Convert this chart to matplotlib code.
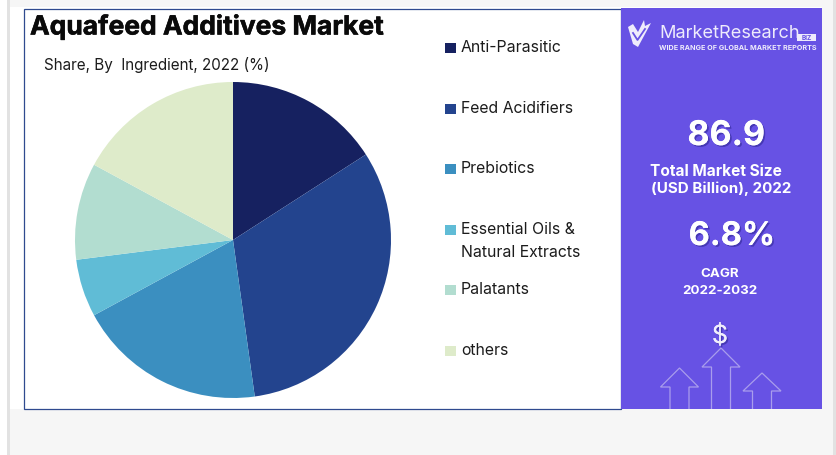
import matplotlib
matplotlib.use("Agg")
import matplotlib.pyplot as plt
import matplotlib.patheffects as pe
from matplotlib.patches import Rectangle, Polygon

W, H = 836, 455

categories = ["Anti-Parasitic", "Feed Acidifiers", "Prebiotics",
              "Essential Oils &\nNatural Extracts", "Palatants", "others"]
shares = [15.9, 31.9, 19.3, 5.9, 9.9, 17.1]
colors = ["#162160", "#23448e", "#3b8fc0", "#60bcd6", "#b2ddd0", "#deebca"]
legend_y = [48, 109, 169, 230, 290, 351]

plt.rcParams["font.family"] = ["Inter", "DejaVu Sans"]

PANEL = "#6752e4"
fig = plt.figure(figsize=(W / 100, H / 100), dpi=100, facecolor="#f6f6f6")

# Page layer in pixel coordinates, origin at the top left
page = fig.add_axes([0, 0, 1, 1])
page.set_xlim(0, W)
page.set_ylim(H, 0)
page.axis("off")


def rect(x0, y0, x1, y1, **kw):
    page.add_patch(Rectangle((x0, y0), x1 - x0, y1 - y0, linewidth=kw.pop("lw", 0), **kw))


rect(0, 0, 7, H, facecolor="#ffffff")
rect(7, 0, 10, H, facecolor="#e2e2e2")
rect(833, 0, W, H, facecolor="#e2e2e2")
rect(10, 7, 822, 409, facecolor="#ffffff")
rect(23.5, 8.5, 621, 408.5, facecolor="#ffffff", edgecolor="#2f4a8f", lw=0.9)
rect(621, 8, 822, 409, facecolor=PANEL)

page.text(30, 27, "Aquafeed Additives Market", fontsize=19, fontweight="bold",
          color="#0a0a0a", va="center", ha="left",
          path_effects=[pe.withStroke(linewidth=0.4, foreground="#0a0a0a")])
page.text(44, 65, "Share, By  Ingredient, 2022 (%)", fontsize=10.95,
          color="#1c1c1c", va="center", ha="left")

# Legend swatches and labels
for name, col, y in zip(categories, colors, legend_y):
    rect(445, y - 5, 456, y + 5, facecolor=col)
    first, *rest = name.split("\n")
    page.text(461, y - 0.5, first, fontsize=11.4, color="#1c1c1c", va="center", ha="left")
    for line in rest:
        page.text(461, y + 22.5, line, fontsize=11.4, color="#1c1c1c", va="center", ha="left")

# Pie
cx, cy, r = 233, 240, 158
pie_ax = fig.add_axes([(cx - r) / W, 1 - (cy + r) / H, 2 * r / W, 2 * r / H])
pie_ax.pie(shares, colors=colors, startangle=90, counterclock=False, radius=1,
           wedgeprops={"linewidth": 0})
pie_ax.set_xlim(-1, 1)
pie_ax.set_ylim(-1, 1)

# Side panel text
shadow = [pe.withSimplePatchShadow(offset=(1.2, -1.2), shadow_rgbFace="#2c2390", alpha=0.55), pe.Normal()]
white = "#ffffff"
page.text(726, 136, "86.9", fontsize=24.5, fontweight="bold", color=white,
          ha="center", va="center", path_effects=shadow)
page.text(715.5, 171, "Total Market Size", fontsize=11.1, fontweight="bold", color=white,
          ha="center", va="center")
page.text(721, 189, "(USD Billion), 2022", fontsize=10.9, fontweight="bold", color=white,
          ha="center", va="center")
page.text(732, 236.5, "6.8%", fontsize=23.5, fontweight="bold", color=white,
          ha="center", va="center", path_effects=shadow)
page.text(720, 274, "CAGR", fontsize=9.6, fontweight="bold", color=white, ha="center", va="center")
page.text(720, 291, "2022-2032", fontsize=9.6, fontweight="bold", color=white, ha="center", va="center")
page.text(720, 336, "$", fontsize=18, color="#f0eefc", ha="center", va="center", path_effects=shadow)

# Logo
logo = "#eeebfc"
page.add_patch(Polygon([(628, 27), (633, 24), (638, 32), (644, 20), (645, 26), (651, 23),
                        (638, 47), (633, 44)], closed=True, facecolor=logo, linewidth=0))
page.plot([633, 637.5, 645], [33, 40, 29], color=PANEL, linewidth=1.3)
page.text(659.5, 33.5, "MarketResearch", fontsize=13.1, color=logo, ha="left", va="center")
rect(797, 34, 816, 41, facecolor=logo)
page.text(806.5, 37.6, "BIZ", fontsize=4.6, fontweight="bold", color=PANEL, ha="center", va="center")
page.text(659, 48, "WIDE RANGE OF GLOBAL MARKET REPORTS", fontsize=5.2, fontweight="bold",
          color=logo, ha="left", va="center")

# Outlined growth arrows
arrows = [(679.5, 368, 387), (721, 348, 367), (762, 373, 391)]
for ax_x, tip, shoulder in arrows:
    half_head, half_body = 19, 9.5
    pts = [(ax_x - half_body, 409), (ax_x - half_body, shoulder), (ax_x - half_head, shoulder),
           (ax_x, tip), (ax_x + half_head, shoulder), (ax_x + half_body, shoulder), (ax_x + half_body, 409)]
    page.add_patch(Polygon(pts, closed=False, fill=False, edgecolor="#a99dec", linewidth=0.9))

fig.savefig("out.png", dpi=100, facecolor=fig.get_facecolor())
